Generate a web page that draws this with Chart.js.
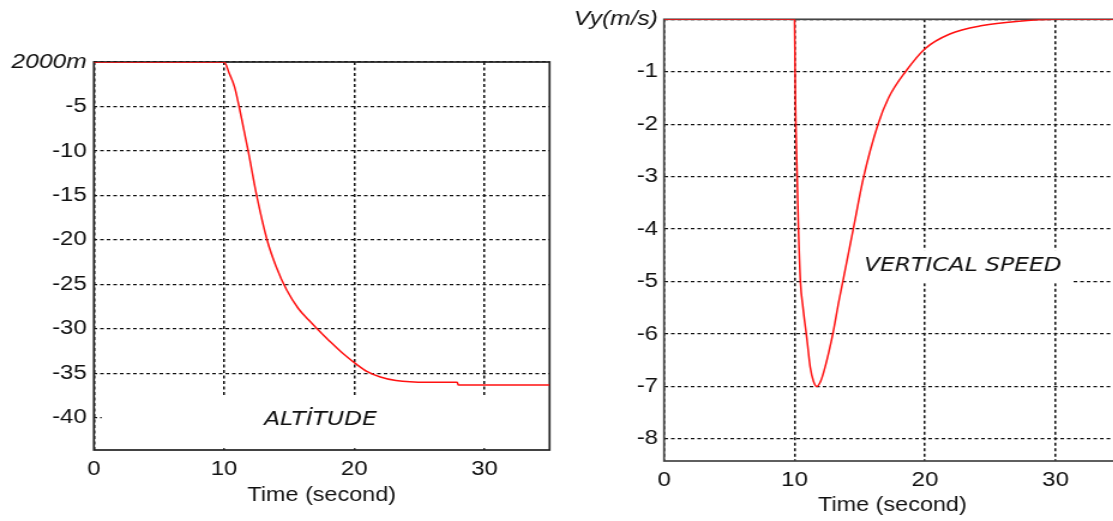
<!DOCTYPE html>
<html>
<head>
<meta charset="utf-8">
<title>Altitude / vertical speed</title>
<script src="https://cdn.jsdelivr.net/npm/chart.js@4.4.1/dist/chart.umd.min.js"></script>
<style>
  html, body { margin: 0; padding: 0; background: #fff; }
  body { width: 1113px; height: 521px; overflow: hidden; position: relative; }
  canvas { position: absolute; top: 0; }
</style>
</head>
<body>
<!-- the original picture is stretched sideways, so the canvases are too -->
<canvas id="altitudeChart" width="467" height="521" style="left:0;width:560.4px;height:521px"></canvas>
<canvas id="speedChart" width="480" height="521" style="left:560px;width:576px;height:521px"></canvas>
<script>
// Values (time in seconds)

const timeTicks = [0, 10, 20, 30];

// altitude change (m), relative to 2000 m
const altitudeTime  = [0, 10, 10.4, 10.8, 11.15, 11.5, 11.85, 12.5, 13.3, 14.0, 14.8, 15.7, 16.5, 17.2, 18.2, 19.2, 20.2, 21.0, 22.0, 23.2, 25.6, 27.9, 28.0, 35];
const altitudeValue = [0, 0, -1.3, -2.8, -5, -7.5, -10, -15, -20, -23, -25.6, -27.7, -29.0, -30.05, -31.5, -32.85, -34.0, -34.8, -35.4, -35.8, -36.0, -36.0, -36.3, -36.3];
const altitudeTicks = [0, -5, -10, -15, -20, -25, -30, -35, -40];
const altitudeTickLabels = ['2000m', '-5', '-10', '-15', '-20', '-25', '-30', '-35', '-40'];

// vertical speed (m/s)
const speedTime  = [0, 10, 10.04, 10.1, 10.2, 10.3, 10.45, 10.65, 10.95, 11.2, 11.45, 11.7, 12.0, 12.34, 12.93, 13.4, 13.7, 14.5, 15.3, 16.4, 17.2, 18.5, 20, 21.9, 24.4, 27, 30, 35];
const speedValue = [0, 0, -1, -2, -3, -4, -5, -5.5, -6.1, -6.63, -6.9, -7, -6.9, -6.63, -6, -5.37, -5, -4, -3, -2, -1.5, -1, -0.56, -0.28, -0.12, -0.04, 0, 0];
const speedTicks = [0, -1, -2, -3, -4, -5, -6, -7, -8];
const speedTickLabels = ['Vy(m/s)', '-1', '-2', '-3', '-4', '-5', '-6', '-7', '-8'];

const TEXT = '#111';
const GRID = '#111';
const tickFont = { family: '"Liberation Sans", Arial, sans-serif', size: 20 };
const italicFont = { family: '"Liberation Sans", Arial, sans-serif', size: 20.5, style: 'italic' };
const titleFont = { family: '"Liberation Sans", Arial, sans-serif', size: 19.5 };

// white label box + caption, then the frame round the plot area
const notesPlugin = {
  id: 'notes',
  beforeDatasetsDraw(chart, args, opts) {
    const { ctx, chartArea: a, scales: { x, y } } = chart;
    ctx.save();
    if (opts.box) {
      const x0 = x.getPixelForValue(opts.box[0]);
      const x1 = x.getPixelForValue(opts.box[1]);
      const y0 = y.getPixelForValue(opts.box[2]);
      const y1 = y.getPixelForValue(opts.box[3]);
      ctx.fillStyle = '#fff';
      ctx.fillRect(x0, y0, x1 - x0, y1 - y0);
    }
    ctx.font = 'italic 19.5px "DejaVu Sans", Verdana, sans-serif';
    ctx.fillStyle = TEXT;
    ctx.textAlign = 'center';
    ctx.textBaseline = 'middle';
    ctx.fillText(opts.text, x.getPixelForValue(opts.at[0]), y.getPixelForValue(opts.at[1]));

    ctx.strokeStyle = opts.frame;
    ctx.lineWidth = 1.7;
    ctx.strokeRect(a.left, a.top, a.right - a.left, a.bottom - a.top);
    ctx.restore();
  }
};

function makeChart(id, cfg) {
  const points = cfg.time.map((t, i) => ({ x: t, y: cfg.value[i] }));
  return new Chart(document.getElementById(id), {
    type: 'line',
    data: {
      datasets: [{
        data: points,
        borderColor: '#ff1111',
        borderWidth: 1.5,
        pointRadius: 0,
        cubicInterpolationMode: 'monotone'
      }]
    },
    options: {
      responsive: false,
      devicePixelRatio: 1,
      animation: false,
      layout: { padding: { left: 0, right: cfg.padRight, top: cfg.padTop, bottom: 0 } },
      plugins: {
        legend: { display: false },
        tooltip: { enabled: false },
        notes: cfg.notes
      },
      scales: {
        x: {
          type: 'linear',
          min: 0,
          max: 35,
          afterBuildTicks: s => { s.ticks = timeTicks.map(v => ({ value: v })); },
          afterFit: s => { s.height = cfg.xHeight; },
          grid: { color: GRID, lineWidth: 1.5, drawTicks: false },
          border: { display: false, dash: [3, 2.5] },
          ticks: { color: TEXT, font: tickFont, padding: 7, maxRotation: 0, autoSkip: false },
          title: {
            display: true,
            text: 'Time (second)',
            color: TEXT,
            font: titleFont,
            padding: { top: 0, bottom: cfg.titlePad }
          }
        },
        y: {
          min: cfg.yMin,
          max: 0,
          afterBuildTicks: s => { s.ticks = cfg.ticks.map(v => ({ value: v })); },
          afterFit: s => { s.width = cfg.yWidth; },
          grid: { color: GRID, lineWidth: 1.3, drawTicks: false },
          border: { display: false, dash: [3, 2.5] },
          ticks: {
            color: TEXT,
            padding: cfg.yPad,
            autoSkip: false,
            font: c => (c.tick && c.tick.value === 0 ? italicFont : tickFont),
            callback: v => cfg.labels[cfg.ticks.indexOf(v)]
          }
        }
      }
    },
    plugins: [notesPlugin]
  });
}

makeChart('altitudeChart', {
  time: altitudeTime,
  value: altitudeValue,
  ticks: altitudeTicks,
  labels: altitudeTickLabels,
  yMin: -43.6,
  yWidth: 78.3,
  yPad: 6,
  padTop: 62,
  padRight: 8.7,
  xHeight: 71,
  titlePad: 14,
  notes: { text: 'ALTİTUDE', at: [17.4, -40.2], box: [0.6, 35, -37.5, -43.4], frame: '#222' }
});

makeChart('speedChart', {
  time: speedTime,
  value: speedValue,
  ticks: speedTicks,
  labels: speedTickLabels,
  yMin: -8.42,
  yWidth: 86.7,
  yPad: 5,
  padTop: 19.3,
  padRight: 12.7,
  xHeight: 60,
  titlePad: 4,
  notes: { text: 'VERTICAL SPEED', at: [22.9, -4.7], box: [14.9, 31.3, -4.4, -5.03], frame: '#444' }
});
</script>
</body>
</html>
